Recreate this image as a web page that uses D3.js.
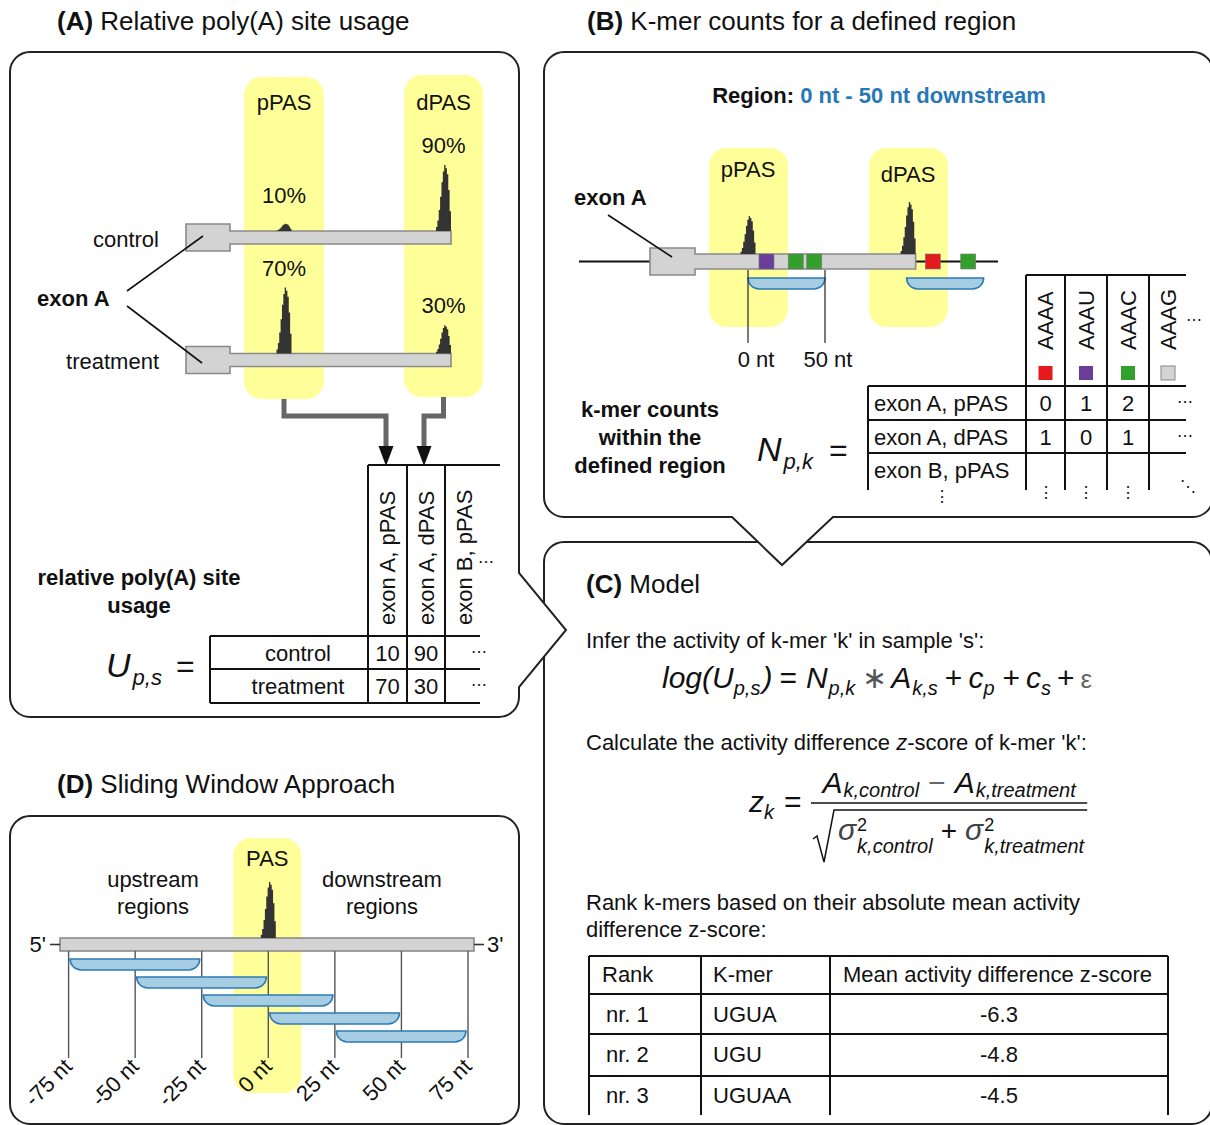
<!DOCTYPE html>
<html><head><meta charset="utf-8">
<script src="https://cdn.jsdelivr.net/npm/d3@7"></script>
<style>
html,body{margin:0;padding:0;background:#fff;}
svg{display:block;font-family:"Liberation Sans",Arial,Helvetica,sans-serif;}
text{white-space:pre;}
</style></head><body>
<svg id="fig" width="1210" height="1125"></svg>
<script>
// ---------- data ----------
const conditions = ["control", "treatment"];
const usagePPAS = [10, 70];          // % usage of the proximal site
const usageDPAS = [90, 30];          // % usage of the distal site
const usageColumns = ["exon A, pPAS", "exon A, dPAS", "exon B, pPAS"];

const kmers = ["AAAA", "AAAU", "AAAC", "AAAG"];
const kmerColors = ["#e41a1c", "#6a3d9a", "#33a02c", "#d4d4d4"];
const countRows = ["exon A, pPAS", "exon A, dPAS", "exon B, pPAS"];
const countsPPAS = [0, 1, 2];
const countsDPAS = [1, 0, 1];
// k-mer hits along the exon A 3'UTR (nt, relative to pPAS)
const hitKmers = ["AAAU", "AAAC", "AAAC", "AAAA", "AAAC"];
const hitPos = [12, 31, 43, 120, 143];
const dpasPos = 103;
const regionStart = 0, regionEnd = 50;

const rankHeader = ["Rank", "K-mer", "Mean activity difference z-score"];
const rankLabels = ["nr. 1", "nr. 2", "nr. 3"];
const rankKmers = ["UGUA", "UGU", "UGUAA"];
const rankZ = [-6.3, -4.8, -4.5];

const windowStarts = [-75, -50, -25, 0, 25];
const windowSize = 50;
const ntTicks = [-75, -50, -25, 0, 25, 50, 75];

// relative read coverage across a cleavage peak
const peakProfile = [0.06, 0.16, 0.32, 0.52, 0.74, 0.9, 1, 0.95, 0.86, 0.62, 0.3];

// ---------- styles ----------
const INK = "#111", YELLOW = "#ffff99";
const GENE_FILL = "#d3d3d3", GENE_STROKE = "#8a8a8a", PEAK = "#333";
const BLUE_TXT = "#2878b8", WIN_FILL = "#a6cde2", WIN_STROKE = "#2c7bb6";
const FS = 22;

const svg = d3.select("#fig");

function text(g, x, y, s, o = {}) {
  return g.append("text").attr("x", x).attr("y", y).text(s)
    .attr("font-size", o.size || FS)
    .attr("font-weight", o.bold ? "bold" : null)
    .attr("font-style", o.it ? "italic" : null)
    .attr("text-anchor", o.anchor || "start")
    .attr("fill", o.fill || INK);
}
function line(g, x1, y1, x2, y2, w = 2, c = INK) {
  return g.append("line").attr("x1", x1).attr("y1", y1).attr("x2", x2).attr("y2", y2)
    .attr("stroke", c).attr("stroke-width", w);
}
function peak(g, cx, baseY, h, w = 15) {
  const n = peakProfile.length;
  const px = d3.scaleLinear().domain([0, n]).range([cx - w / 2, cx + w / 2]);
  const py = d3.scaleLinear().domain([0, 1]).range([baseY, baseY - h]);
  const pts = peakProfile.map((v, i) => [i, v]).concat([[n, 0]]);
  g.append("path")
    .attr("d", d3.area().x(d => px(d[0])).y0(baseY).y1(d => py(d[1])).curve(d3.curveStepAfter)(pts))
    .attr("fill", PEAK);
}
function gene(g, x0, xe, x1, yc, hE, hU) {
  const d = `M${x0},${yc - hE / 2}H${xe}V${yc - hU / 2}H${x1}V${yc + hU / 2}H${xe}V${yc + hE / 2}H${x0}Z`;
  g.append("path").attr("d", d).attr("fill", GENE_FILL).attr("stroke", GENE_STROKE).attr("stroke-width", 1.6);
}
function yellow(g, x0, y0, x1, y1) {
  g.append("rect").attr("x", x0).attr("y", y0).attr("width", x1 - x0).attr("height", y1 - y0)
    .attr("rx", 18).attr("fill", YELLOW);
}
function windowShape(g, x0, x1, y, h) {
  const r = h;
  g.append("path")
    .attr("d", `M${x0},${y}H${x1}A${r},${r} 0 0 1 ${x1 - r},${y + h}H${x0 + r}A${r},${r} 0 0 1 ${x0},${y}Z`)
    .attr("fill", WIN_FILL).attr("stroke", WIN_STROKE).attr("stroke-width", 1.6);
}
// sequence of math pieces; returns the total advance
function mathRow(g, x, y, parts) {
  let cx = x;
  const put = (p, px) => {
    const t = g.append("text").attr("x", px).attr("y", y + (p.dy || 0)).text(p.t)
      .attr("font-size", p.size || 30).attr("font-style", p.it ? "italic" : null)
      .attr("fill", p.fill || INK);
    return t.node().getComputedTextLength();
  };
  parts.forEach(p => {
    if (p.gap) { cx += p.gap; return; }
    if (p.stack) { cx += Math.max(put(p.stack[0], cx), put(p.stack[1], cx)); return; }
    cx += put(p, cx);
  });
  return cx - x;
}

// ---------- panel frames ----------
const R = 20;
const frames = svg.append("g").attr("fill", "#fff").attr("stroke", "#222").attr("stroke-width", 2);
// (C) and (D)
frames.append("rect").attr("x", 544).attr("y", 542).attr("width", 668).attr("height", 582).attr("rx", R);
frames.append("rect").attr("x", 10).attr("y", 816).attr("width", 509).attr("height", 308).attr("rx", R);
// (A) with a pointer to the model
{
  const x0 = 10, y0 = 52, x1 = 519, y1 = 717;
  frames.append("path").attr("d",
    `M${x0 + R},${y0}H${x1 - R}A${R},${R} 0 0 1 ${x1},${y0 + R}V573L566,630L${x1},687V${y1 - R}` +
    `A${R},${R} 0 0 1 ${x1 - R},${y1}H${x0 + R}A${R},${R} 0 0 1 ${x0},${y1 - R}V${y0 + R}A${R},${R} 0 0 1 ${x0 + R},${y0}Z`);
}
// (B) with a pointer down to the model
{
  const x0 = 544, y0 = 52, x1 = 1213, y1 = 517;
  frames.append("path").attr("d",
    `M${x0 + R},${y0}H${x1 - R}A${R},${R} 0 0 1 ${x1},${y0 + R}V${y1 - R}A${R},${R} 0 0 1 ${x1 - R},${y1}` +
    `H833L782,565L732,${y1}H${x0 + R}A${R},${R} 0 0 1 ${x0},${y1 - R}V${y0 + R}A${R},${R} 0 0 1 ${x0 + R},${y0}Z`);
}

// ---------- titles ----------
function title(x, y, tag, rest) {
  const t = svg.append("text").attr("x", x).attr("y", y).attr("font-size", 26).attr("fill", INK);
  t.append("tspan").attr("font-weight", "bold").text(tag);
  t.append("tspan").text(" " + rest);
}
title(57, 30, "(A)", "Relative poly(A) site usage");
title(587, 30, "(B)", "K-mer counts for a defined region");
title(57, 793, "(D)", "Sliding Window Approach");
title(586, 593, "(C)", "Model");

// ---------- panel A ----------
const A = svg.append("g");
const aSiteX = { pPAS: 284, dPAS: 443.5 };
yellow(A, 244, 77, 324, 399);
yellow(A, 404, 75, 483, 397);
text(A, aSiteX.pPAS, 110, "pPAS", { anchor: "middle" });
text(A, aSiteX.dPAS, 110, "dPAS", { anchor: "middle" });

const aRowY = [237.5, 360];
conditions.forEach((c, i) => {
  const yc = aRowY[i];
  gene(A, 186, 230, 451, yc, 27, 13);
  const base = yc - 6.5;
  const h = d3.scaleLinear().domain([0, Math.max(usagePPAS[i], usageDPAS[i])]).range([0, 66]);
  [["pPAS", usagePPAS[i]], ["dPAS", usageDPAS[i]]].forEach(([s, v]) => {
    peak(A, aSiteX[s], base, h(v));
    text(A, aSiteX[s], Math.min(base - h(v) - 12, base - 28), v + "%", { anchor: "middle" });
  });
  text(A, 159, yc + 9, c, { anchor: "end" });
});
text(A, 37, 306, "exon A", { bold: true, size: 22 });
line(A, 127, 291, 203, 236, 1.6);
line(A, 127, 306, 202, 363, 1.6);

// arrows to the usage matrix
A.append("path").attr("d", "M284,399V416H386V450").attr("fill", "none").attr("stroke", "#666").attr("stroke-width", 5);
A.append("path").attr("d", "M443.5,397V416H424V450").attr("fill", "none").attr("stroke", "#666").attr("stroke-width", 5);
[386, 424].forEach(x => A.append("path").attr("d", `M${x - 7.5},446H${x + 7.5}L${x},466Z`).attr("fill", "#111"));

// usage matrix U_{p,s}
{
  const colX = [368, 407, 445];
  const rowY = [636, 669, 703];
  line(A, 368, 465, 500, 465);
  colX.forEach(x => line(A, x, 465, x, 703));
  rowY.forEach(y => line(A, 210, y, 480, y));
  line(A, 210, 636, 210, 703);
  usageColumns.forEach((c, j) => {
    A.append("text").attr("transform", `translate(${colX[j] + 19.5},625) rotate(-90)`)
      .attr("dy", "0.36em").attr("font-size", FS).attr("fill", INK).text(c);
  });
  text(A, 486, 567, "⋯", { anchor: "middle", size: 16 });
  conditions.forEach((c, i) => {
    const yb = (rowY[i] + rowY[i + 1]) / 2 + 8;
    text(A, 298, yb, c, { anchor: "middle" });
    text(A, 387.5, yb, String(usagePPAS[i]), { anchor: "middle" });
    text(A, 426, yb, String(usageDPAS[i]), { anchor: "middle" });
    text(A, 479, yb - 4, "⋯", { anchor: "middle", size: 16 });
  });
  text(A, 139, 585, "relative poly(A) site", { anchor: "middle", bold: true, size: 22 });
  text(A, 139, 613, "usage", { anchor: "middle", bold: true, size: 22 });
  mathRow(A, 106, 677, [
    { t: "U", it: true, size: 34 }, { gap: 2 }, { t: "p,s", it: true, size: 22, dy: 8 }, { gap: 14 }, { t: "=", size: 32 }
  ]);
}

// ---------- panel B ----------
const B = svg.append("g");
{
  const t = B.append("text").attr("x", 879).attr("y", 103).attr("font-size", 22).attr("font-weight", "bold").attr("text-anchor", "middle");
  t.append("tspan").attr("fill", INK).text("Region: ");
  t.append("tspan").attr("fill", BLUE_TXT).text(`${regionStart} nt - ${regionEnd} nt downstream`);
}
const xB = d3.scaleLinear().domain([regionStart, regionEnd]).range([748, 825]);
yellow(B, 709, 148, 788, 327);
yellow(B, 869, 148, 948, 327);
text(B, 748, 177, "pPAS", { anchor: "middle" });
text(B, 908, 182, "dPAS", { anchor: "middle" });
line(B, 579, 261.5, 998, 261.5, 2);
gene(B, 650, 695, xB(dpasPos) + 9, 261.5, 27, 15);
peak(B, xB(0), 254, 38);
peak(B, xB(dpasPos) + 1.5, 254, 52);
hitKmers.forEach((k, i) => {
  const cx = xB(hitPos[i]);
  B.append("rect").attr("x", cx - 7.5).attr("y", 254).attr("width", 15).attr("height", 15)
    .attr("fill", kmerColors[kmers.indexOf(k)]).attr("stroke", "#777").attr("stroke-width", 0.6);
});
[0, dpasPos].forEach(s => windowShape(B, xB(s + regionStart), xB(s + regionEnd), 278, 11));
[regionStart, regionEnd].forEach(v => {
  line(B, xB(v), 270, xB(v), 343, 1.3, "#333");
});
text(B, xB(regionStart) + 8, 367, `${regionStart} nt`, { anchor: "middle" });
text(B, xB(regionEnd) + 3, 367, `${regionEnd} nt`, { anchor: "middle" });
text(B, 574, 205, "exon A", { bold: true, size: 22 });
line(B, 608, 215, 672, 257, 1.6);

// count matrix N_{p,k}
{
  const colX = [1026, 1065, 1107, 1149];
  const colC = [1045.5, 1086, 1128, 1168];
  const rowY = [386, 420, 453];
  line(B, 1026, 275, 1186, 275);
  colX.forEach(x => line(B, x, 275, x, 490));
  rowY.forEach(y => line(B, 868, y, 1186, y));
  line(B, 868, 386, 868, 490);
  kmers.forEach((k, j) => {
    B.append("text").attr("transform", `translate(${colC[j]},350) rotate(-90)`)
      .attr("dy", "0.36em").attr("font-size", FS).attr("fill", INK).text(k);
    B.append("rect").attr("x", colC[j] - 7).attr("y", 366).attr("width", 14).attr("height", 14)
      .attr("fill", kmerColors[j]).attr("stroke", j === 3 ? "#888" : "none").attr("stroke-width", 1);
  });
  text(B, 1194, 325, "⋯", { anchor: "middle", size: 16 });
  const vals = [countsPPAS, countsDPAS];
  countRows.forEach((r, i) => {
    const yb = i < 2 ? (rowY[i] + rowY[i + 1]) / 2 + 8 : 478;
    text(B, 874, yb, r);
    if (i < 2) {
      vals[i].forEach((v, j) => text(B, colC[j], yb, String(v), { anchor: "middle" }));
      text(B, 1185, yb - 4, "⋯", { anchor: "middle", size: 16 });
    } else {
      colC.slice(0, 3).forEach(x => text(B, x, 498, "⋮", { anchor: "middle", size: 16 }));
      text(B, 942, 502, "⋮", { anchor: "middle", size: 16 });
      text(B, 1188, 492, "⋱", { anchor: "middle", size: 16 });
    }
  });
  text(B, 650, 417, "k-mer counts", { anchor: "middle", bold: true, size: 22 });
  text(B, 650, 445, "within the", { anchor: "middle", bold: true, size: 22 });
  text(B, 650, 473, "defined region", { anchor: "middle", bold: true, size: 22 });
  mathRow(B, 757, 461, [
    { t: "N", it: true, size: 34 }, { gap: 2 }, { t: "p,k", it: true, size: 22, dy: 8 }, { gap: 16 }, { t: "=", size: 32 }
  ]);
}

// ---------- panel C ----------
const C = svg.append("g");
text(C, 586, 648, "Infer the activity of k-mer 'k' in sample 's':");
mathRow(C, 662, 688, [
  { t: "log(U", it: true }, { t: "p,s", it: true, size: 20, dy: 7 }, { gap: 2 }, { t: ")", it: true },
  { gap: 7 }, { t: "=" }, { gap: 9 },
  { t: "N", it: true }, { gap: 1 }, { t: "p,k", it: true, size: 20, dy: 7 }, { gap: 7 }, { t: "∗", fill: "#555" }, { gap: 4 },
  { t: "A", it: true }, { gap: 1 }, { t: "k,s", it: true, size: 20, dy: 7 }, { gap: 7 }, { t: "+" }, { gap: 6 },
  { t: "c", it: true }, { t: "p", it: true, size: 20, dy: 7 }, { gap: 8 }, { t: "+" }, { gap: 6 },
  { t: "c", it: true }, { t: "s", it: true, size: 20, dy: 7 }, { gap: 6 }, { t: "+" }, { gap: 6 },
  { t: "ε", fill: "#666", size: 26 }
]);
{
  const t = C.append("text").attr("x", 586).attr("y", 750).attr("font-size", FS).attr("fill", INK);
  t.append("tspan").text("Calculate the activity difference ");
  t.append("tspan").attr("font-style", "italic").text("z");
  t.append("tspan").text("-score of k-mer 'k':");
}
{
  mathRow(C, 749, 812, [{ t: "z", it: true }, { t: "k", it: true, size: 20, dy: 7 }, { gap: 10 }, { t: "=" }]);
  const barX0 = 811;
  const num = C.append("g");
  const numW = mathRow(num, 0, 793, [
    { t: "A", it: true }, { gap: 1 }, { t: "k,control", it: true, size: 20, dy: 4 }, { gap: 9 }, { t: "−", fill: "#666" }, { gap: 9 },
    { t: "A", it: true }, { gap: 1 }, { t: "k,treatment", it: true, size: 20, dy: 4 }
  ]);
  const den = C.append("g");
  const denW = mathRow(den, 0, 840, [
    { t: "σ", it: true, fill: "#444" }, { gap: 1 },
    { stack: [{ t: "2", size: 18, dy: -9 }, { t: "k,control", it: true, size: 20, dy: 13 }] },
    { gap: 8 }, { t: "+", size: 28 }, { gap: 8 },
    { t: "σ", it: true, fill: "#444" }, { gap: 1 },
    { stack: [{ t: "2", size: 18, dy: -9 }, { t: "k,treatment", it: true, size: 20, dy: 13 }] }
  ]);
  const sq = 24;
  const barW = Math.max(numW, denW + sq) + 6;
  num.attr("transform", `translate(${barX0 + (barW - numW) / 2},0)`);
  const denX = barX0 + sq + (barW - sq - denW) / 2;
  den.attr("transform", `translate(${denX},0)`);
  line(C, barX0, 803, barX0 + barW, 803, 1.6);
  C.append("path").attr("d", `M${barX0 + 2},839L${barX0 + 6},836L${barX0 + 13},862L${barX0 + sq - 1},810H${barX0 + barW}`)
    .attr("fill", "none").attr("stroke", INK).attr("stroke-width", 1.5);
}
text(C, 586, 910, "Rank k-mers based on their absolute mean activity");
text(C, 586, 937, "difference z-score:");
{
  const colX = [589, 701, 830, 1168];
  const rowY = [956, 994, 1034, 1076];
  rowY.forEach(y => line(C, 589, y, 1168, y));
  colX.forEach(x => line(C, x, 956, x, 1115));
  text(C, 602, 982, rankHeader[0]);
  text(C, 713, 982, rankHeader[1]);
  text(C, 843, 982, rankHeader[2]);
  const rowBase = [1022, 1062, 1103];
  rankLabels.forEach((r, i) => {
    text(C, 606, rowBase[i], r);
    text(C, 713, rowBase[i], rankKmers[i]);
    text(C, 999, rowBase[i], d3.format(".1f")(rankZ[i]).replace("−", "-"), { anchor: "middle" });
  });
}

// ---------- panel D ----------
const D = svg.append("g");
const xD = d3.scaleLinear().domain([ntTicks[0], ntTicks[ntTicks.length - 1]]).range([68.6, 468]);
yellow(D, xD(0) - 35, 838, xD(0) + 33, 1093);
text(D, xD(0) - 1, 866, "PAS", { anchor: "middle" });
text(D, 153, 887, "upstream", { anchor: "middle" });
text(D, 153, 914, "regions", { anchor: "middle" });
text(D, 382, 887, "downstream", { anchor: "middle" });
text(D, 382, 914, "regions", { anchor: "middle" });
D.append("rect").attr("x", 60).attr("y", 938).attr("width", 414).attr("height", 13)
  .attr("fill", GENE_FILL).attr("stroke", GENE_STROKE).attr("stroke-width", 1.6);
line(D, 50, 944.5, 60, 944.5, 1.6, "#333");
line(D, 474, 944.5, 484, 944.5, 1.6, "#333");
text(D, 46, 952, "5'", { anchor: "end" });
text(D, 487, 952, "3'");
peak(D, xD(0), 938, 56);
ntTicks.forEach(v => {
  line(D, xD(v), 951, xD(v), 1058, 1.4, "#555");
  D.append("text").attr("transform", `translate(${xD(v) + 5},1068) rotate(-45)`)
    .attr("text-anchor", "end").attr("font-size", FS).attr("fill", INK).text(`${v} nt`);
});
windowStarts.forEach((s, i) => windowShape(D, xD(s) + 1.5, xD(s + windowSize) - 2, 959 + i * 18, 11));
</script>
</body></html>
